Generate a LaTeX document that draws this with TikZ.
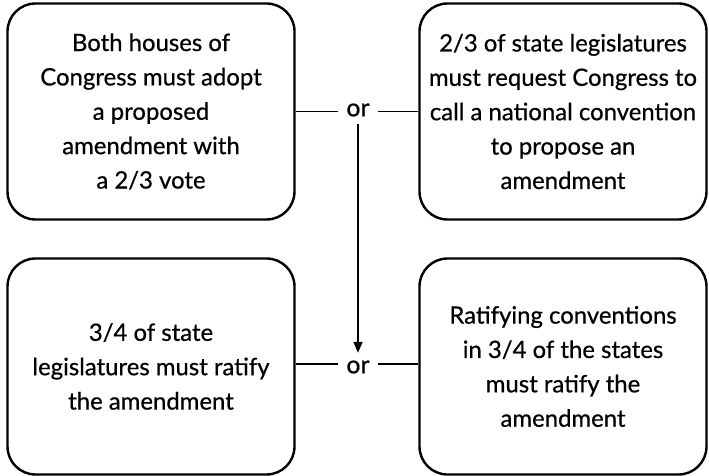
\documentclass[tikz,border=0pt]{standalone}
\usepackage{fontspec}
\setmainfont{Lato}[UprightFeatures={FakeBold=0.6}]
\usetikzlibrary{arrows.meta}
\begin{document}
\begin{tikzpicture}[x=1bp,y=-1bp,
  stepbox/.style={draw, line width=2.4bp, rounded corners=28bp, align=center,
    font=\fontsize{24}{34.5}\selectfont, minimum width=287bp, minimum height=216bp, inner sep=0pt},
  ornode/.style={font=\fontsize{25}{28}\selectfont, inner xsep=8bp, inner ysep=7.5bp},
  link/.style={line width=1.5bp}]
\useasboundingbox (0,0) rectangle (709,476);
\node[stepbox] (tl) at (151,111.5) {Both houses of\\Congress must adopt\\a proposed\\amendment with\\a 2/3 vote};
\node[stepbox] (tr) at (563,111.5) {2/3 of state legislatures\\must request Congress to\\call a national convention\\to propose an\\amendment};
\node[stepbox] (bl) at (151,366.5) {3/4 of state\\legislatures must ratify\\the amendment};
\node[stepbox] (br) at (563,366.5) {Ratifying conventions\\in 3/4 of the states\\must ratify the\\amendment};
\node[ornode] (or1) at (358,110) {or};
\node[ornode] (or2) at (358,367) {or};
\draw[link] (or1.west |- tl.east) -- (tl.east);
\draw[link] (or1.east |- tr.west) -- (tr.west);
\draw[link] ([yshift=3bp]or2.west) -- ([yshift=3bp]or2.west -| bl.east);
\draw[link] ([yshift=3bp]or2.east) -- ([yshift=3bp]or2.east -| br.west);
\draw[link, -{Triangle[length=11bp,width=9bp]}] (or1.south) -- (or2.north);
\end{tikzpicture}
\end{document}
